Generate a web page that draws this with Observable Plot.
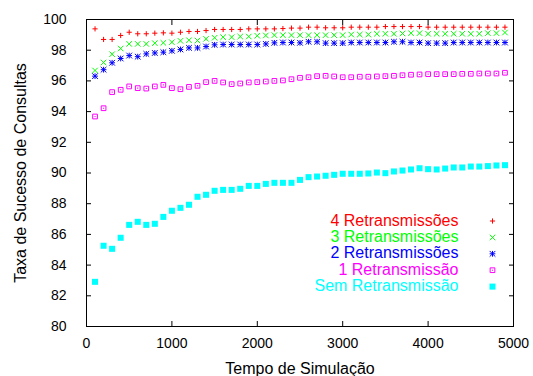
<!DOCTYPE html>
<html><head><meta charset="utf-8">
<script src="https://cdn.jsdelivr.net/npm/d3@7"></script>
<script src="https://cdn.jsdelivr.net/npm/@observablehq/plot@0.6"></script>
<style>
body{margin:0;background:#fff}
#chart{width:533px;height:376px}
</style>
</head><body><div id="chart"></div>
<script>
const tempo = [100,200,300,400,500,600,700,800,900,1000,1100,1200,1300,1400,1500,1600,1700,1800,1900,2000,2100,2200,2300,2400,2500,2600,2700,2800,2900,3000,3100,3200,3300,3400,3500,3600,3700,3800,3900,4000,4100,4200,4300,4400,4500,4600,4700,4800,4900];
const ret4 = [99.39,98.70,98.70,98.96,99.17,99.07,99.07,99.11,99.13,99.11,99.17,99.22,99.22,99.28,99.35,99.35,99.35,99.35,99.39,99.39,99.39,99.39,99.41,99.44,99.44,99.50,99.50,99.46,99.46,99.46,99.50,99.50,99.50,99.50,99.54,99.54,99.54,99.54,99.54,99.50,99.50,99.50,99.50,99.50,99.50,99.50,99.50,99.50,99.50];
const ret3 = [96.68,97.20,97.74,98.11,98.41,98.41,98.41,98.46,98.48,98.52,98.61,98.65,98.63,98.74,98.81,98.85,98.85,98.89,98.89,98.94,98.96,98.98,98.98,98.98,98.98,98.98,98.98,98.98,98.98,98.98,99.02,99.02,99.02,99.07,99.07,99.07,99.09,99.11,99.11,99.07,99.07,99.07,99.07,99.07,99.07,99.07,99.11,99.11,99.15];
const ret2 = [96.31,96.73,97.18,97.46,97.65,97.58,97.76,97.82,97.87,97.96,98.05,98.15,98.15,98.24,98.35,98.37,98.37,98.37,98.37,98.37,98.41,98.48,98.50,98.50,98.48,98.55,98.55,98.46,98.46,98.46,98.50,98.50,98.50,98.50,98.50,98.55,98.55,98.50,98.50,98.46,98.46,98.46,98.50,98.50,98.50,98.50,98.50,98.50,98.50];
const ret1 = [93.68,94.22,95.27,95.42,95.64,95.53,95.50,95.64,95.74,95.53,95.46,95.61,95.68,95.92,96.00,95.90,95.79,95.83,95.90,95.92,95.96,96.00,96.03,96.11,96.20,96.24,96.31,96.33,96.29,96.24,96.24,96.27,96.27,96.29,96.31,96.33,96.37,96.40,96.42,96.44,96.44,96.44,96.44,96.46,96.46,96.48,96.48,96.48,96.53];
const ret0 = [82.91,85.26,85.06,85.78,86.62,86.82,86.62,86.69,87.14,87.54,87.73,87.93,88.45,88.58,88.84,88.90,88.90,88.97,89.16,89.16,89.29,89.36,89.36,89.36,89.55,89.73,89.77,89.82,89.88,89.95,89.95,89.95,89.97,90.03,89.99,90.10,90.16,90.23,90.31,90.25,90.23,90.29,90.36,90.36,90.42,90.42,90.45,90.49,90.51];
const seriesNames = ["4 Retransmissões","3 Retransmissões","2 Retransmissões","1 Retransmissão","Sem Retransmissão"];
const seriesColors = ["#ff0000","#00ff00","#0000ff","#ff00ff","#00ffff"];
const xTicks = [0,1000,2000,3000,4000,5000];
const yTicks = [80,82,84,86,88,90,92,94,96,98,100];
const xLabel = "Tempo de Simulação";
const yLabel = "Taxa de Sucesso de Consultas";

const allSeries = [ret4, ret3, ret2, ret1, ret0];
const rows = (vals) => tempo.map((t, i) => ({t, v: vals[i]}));

// marker drawing per series (gnuplot-like point types)
function markers(data, idx, extra) {
  const c = seriesColors[idx];
  const base = Object.assign({x: "t", y: "v"}, extra || {});
  switch (idx) {
    case 0: return [Plot.dot(data, {...base, symbol: "plus", r: 1.8, stroke: c, strokeWidth: 1})];
    case 1: return [Plot.dot(data, {...base, symbol: "times", r: 2.6, stroke: c, strokeWidth: 1})];
    case 2: return [
      Plot.dot(data, {...base, symbol: "plus", r: 2.0, stroke: c, strokeWidth: 1}),
      Plot.dot(data, {...base, symbol: "times", r: 2.7, stroke: c, strokeWidth: 1})];
    case 3: return [
      Plot.dot(data, {...base, symbol: "square2", r: 3.0, stroke: c, strokeWidth: 1}),
      Plot.dot(data, {...base, symbol: "square", r: 0.6, fill: c, stroke: null})];
    default: return [Plot.dot(data, {...base, symbol: "square", r: 3.4, fill: c, stroke: null})];
  }
}

const marks = [];
allSeries.forEach((vals, i) => marks.push(...markers(rows(vals), i)));

// legend (inside, bottom-right)
seriesNames.forEach((name, i) => {
  marks.push(Plot.text([name], {
    text: d => d, frameAnchor: "bottom-right", dx: -55, dy: -106 + i * 16.4,
    textAnchor: "end", lineAnchor: "middle", fill: seriesColors[i], fontSize: 16
  }));
  const single = [{}];
  markers(single, i, {x: null, y: null, frameAnchor: "bottom-right", dx: -21, dy: -105.5 + i * 16.4})
    .forEach(m => marks.push(m));
});

marks.push(
  Plot.axisX({ticks: xTicks, tickSize: -5, tickPadding: 17, tickFormat: d => String(d), label: null}),
  Plot.axisX({anchor: "top", ticks: xTicks, tickSize: -5, tickFormat: () => "", label: null}),
  Plot.axisY({ticks: yTicks, tickSize: -5, tickPadding: 25, tickFormat: d => String(d), label: null}),
  Plot.axisY({anchor: "right", ticks: yTicks, tickSize: -5, tickFormat: () => "", label: null}),
  Plot.frame({stroke: "#000", strokeWidth: 1}),
  Plot.text([xLabel], {text: d => d, frameAnchor: "bottom", dy: 42, textAnchor: "middle", lineAnchor: "middle", fontSize: 16, fill: "#000"}),
  Plot.text([yLabel], {text: d => d, frameAnchor: "left", dx: -66, rotate: -90, textAnchor: "middle", lineAnchor: "middle", fontSize: 16, fill: "#000"})
);

const chart = Plot.plot({
  width: 533, height: 376,
  marginLeft: 86, marginRight: 20, marginTop: 19, marginBottom: 50,
  x: {domain: [0, 5000]},
  y: {domain: [80, 100]},
  style: {fontFamily: "'Liberation Sans', Arial, Helvetica, sans-serif", fontSize: "14px", color: "#000", background: "#fff"},
  marks
});
document.getElementById("chart").appendChild(chart);
</script>
</body></html>
